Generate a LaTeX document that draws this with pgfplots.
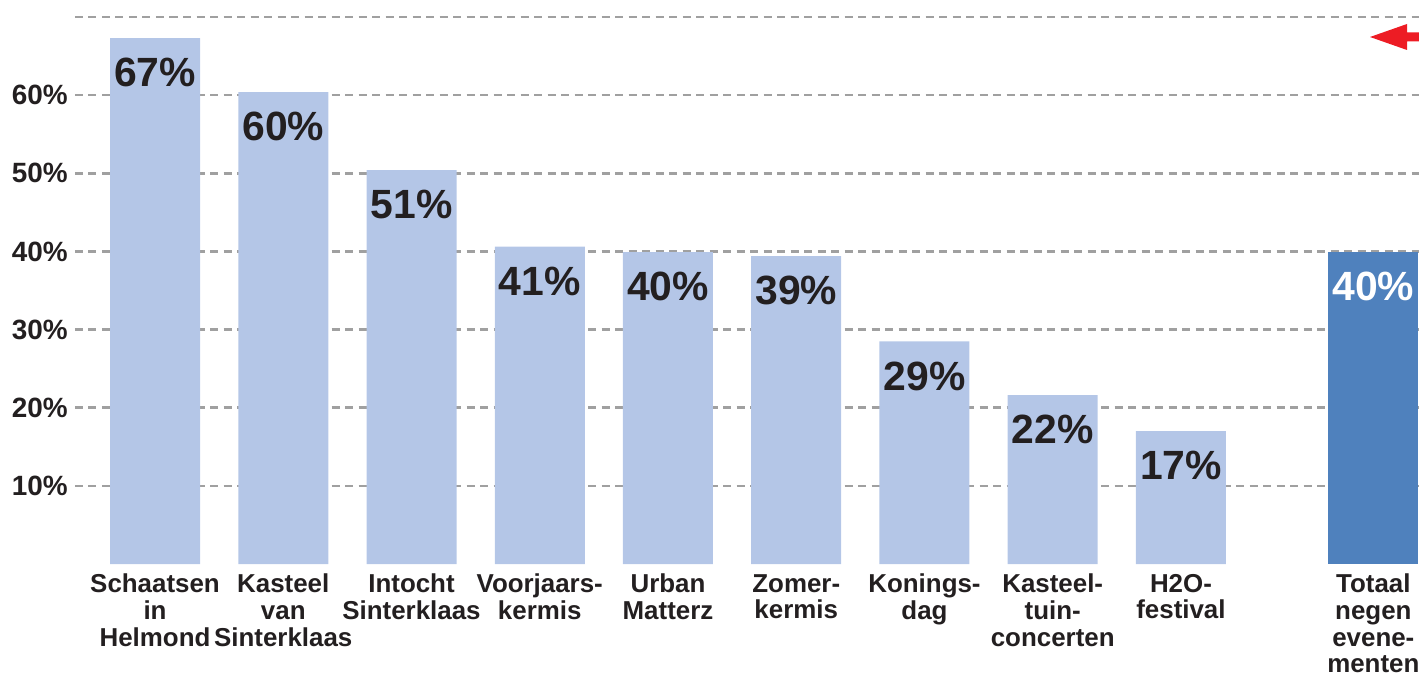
\documentclass[border=0pt]{standalone}
\usepackage{pgfplots}
\pgfplotsset{compat=1.18}
\usepackage{fontspec}
\setmainfont{Liberation Sans}
\definecolor{lightbar}{HTML}{B4C6E7}
\definecolor{darkbar}{HTML}{4F81BD}
\definecolor{txt}{HTML}{231F20}
\definecolor{arrowred}{HTML}{ED1C24}
\definecolor{gridgray}{HTML}{A0A0A0}
\pgfplotstableread{
x y lab
0 67.3 67
1 60.4 60
2 50.4 51
3 40.6 41
4 39.9 40
5 39.4 39
6 28.5 29
7 21.6 22
8 17.0 17
}\eventdata
\pgfplotstableread{
x y lab
9.5 39.9 40
}\totaldata
\begin{document}
\begin{tikzpicture}
\begin{axis}[
  at={(0bp,0bp)}, anchor=south west,
  scale only axis,
  width=1344bp, height=547bp,
  xmin=-0.624, xmax=9.856,
  ymin=0, ymax=70,
  axis line style={draw=none},
  major tick length=0pt,
  ytick={10,20,30,40,50,60,70},
  yticklabels={10\%,20\%,30\%,40\%,50\%,60\%,{}},
  xtick={0,1,2,3,4,5,6,7,8,9.5},
  xticklabels={{Schaatsen\\in\\Helmond},{Kasteel\\van\\Sinterklaas},{Intocht\\Sinterklaas},{Voorjaars-\\kermis},{Urban\\Matterz},{Zomer-\\kermis},{Konings-\\dag},{Kasteel-\\tuin-\\concerten},{H2O-\\festival},{Totaal\\negen\\evene-\\menten}},
  xticklabel style={align=center, font=\fontsize{26}{26.7}\selectfont\bfseries, text=txt, inner sep=0pt, anchor=north, yshift=-10bp},
  yticklabel style={font=\fontsize{28}{30}\selectfont\bfseries, text=txt, inner sep=0pt, anchor=east, xshift=-7bp},
  ymajorgrids,
  grid style={gridgray, line width=2.6bp, dash pattern=on 8bp off 5.5bp},
  ybar, bar width=90bp, bar shift=0pt,
  point meta=explicit symbolic,
  nodes near coords={\pgfplotspointmeta\%},
  every node near coord/.append style={font=\fontsize{41}{42}\selectfont\bfseries, anchor=north, inner sep=0pt, yshift=-20bp},
]
\addplot[draw=none, fill=lightbar, every node near coord/.append style={text=txt}] table[x=x, y=y, meta=lab] {\eventdata};
\addplot[draw=none, fill=darkbar, every node near coord/.append style={text=white}] table[x=x, y=y, meta=lab] {\totaldata};
\end{axis}
\fill[arrowred] (1295bp,527bp) -- (1332bp,540bp) -- (1332bp,531.5bp) -- (1344bp,531.5bp) -- (1344bp,522.5bp) -- (1332bp,522.5bp) -- (1332bp,514bp) -- cycle;
\pgfresetboundingbox
\path (-75bp,-113bp) rectangle (1344bp,564bp);
\end{tikzpicture}
\end{document}
